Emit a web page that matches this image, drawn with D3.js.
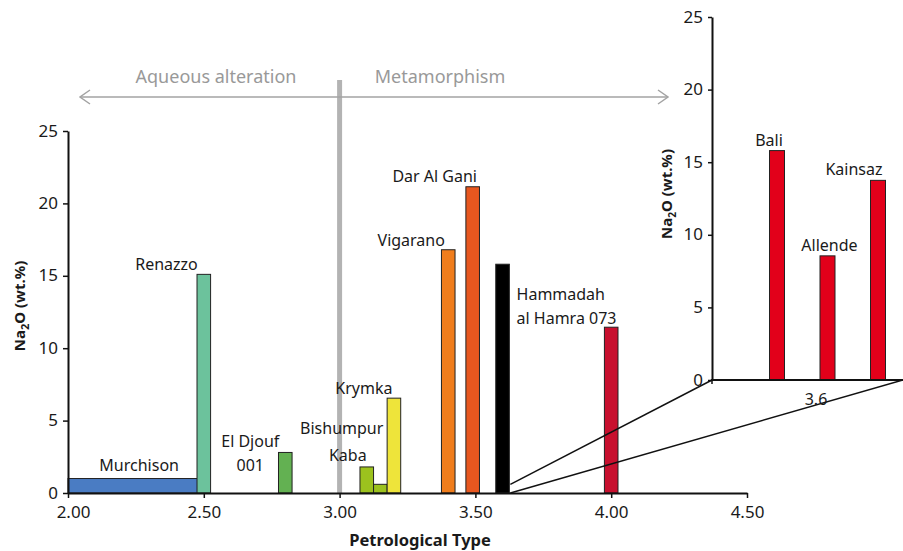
<!DOCTYPE html>
<html>
<head>
<meta charset="utf-8">
<script src="https://cdn.jsdelivr.net/npm/d3@7"></script>
<style>
  body { margin: 0; background: #fff; }
  text { font-family: "Noto Sans", sans-serif; fill: #1a1a1a; }
</style>
</head>
<body>
<div class="chart"></div>
<script>
// main chart data
var meteorites = ['Murchison', 'Renazzo', 'El Djouf 001', 'Kaba', 'Bishumpur', 'Krymka',
  'Vigarano', 'Dar Al Gani', 'Hammadah al Hamra 073', 'Type 4'];
var typeMin = [2.00, 2.50, 2.80, 3.10, 3.15, 3.20, 3.40, 3.49, 3.60, 4.00];
var typeMax = [2.48, 2.50, 2.80, 3.10, 3.15, 3.20, 3.40, 3.49, 3.60, 4.00];
var na2o = [1.0, 15.1, 2.8, 1.8, 0.6, 6.55, 16.8, 21.15, 15.8, 11.45];
var barColors = ['#4a7cc3', '#6cc29c', '#63b152', '#9cc21e', '#9cc21e', '#eee43a',
  '#f07d1c', '#e8571f', '#000000', '#c8102e'];
var xTicks = [2.0, 2.5, 3.0, 3.5, 4.0, 4.5];
var yTicks = [0, 5, 10, 15, 20, 25];

// inset (type 3.6)
var insetNames = ['Bali', 'Allende', 'Kainsaz'];
var insetNa2o = [15.8, 8.55, 13.75];

var width = 903, height = 551;

var svg = d3.select('.chart')
  .append('svg')
    .attr('width', width)
    .attr('height', height);

var xScale = d3.scaleLinear().domain([2, 4.5]).range([68, 747]);
var yScale = d3.scaleLinear().domain([0, 25]).range([493, 131]);
var barW = 0.05;

// label offsets relative to bar centre / top: [dx, dy, anchor]
var labelPos = {
  'Murchison': [6, -8, 'middle'],
  'Renazzo': [-6, -4, 'end'],
  'El Djouf 001': [-35, -5, 'middle'],
  'Kaba': [-19, -6, 'middle'],
  'Bishumpur': [3, -50, 'end'],
  'Krymka': [-30, -4, 'middle'],
  'Vigarano': [-37, -4, 'middle'],
  'Dar Al Gani': [-38, -5, 'middle'],
  'Hammadah al Hamra 073': [14, 36, 'start']
};
var labelLines = {
  'El Djouf 001': ['El Djouf', '001'],
  'Hammadah al Hamra 073': ['Hammadah', 'al Hamra 073']
};

// phase arrow + type 3.0 divider
var grey = '#a3a3a3';
svg.append('line')
  .attr('x1', xScale(3.0)).attr('x2', xScale(3.0))
  .attr('y1', 80).attr('y2', yScale(0))
  .attr('stroke', '#b3b3b3').attr('stroke-width', 5);
svg.append('line')
  .attr('x1', 80).attr('x2', 668).attr('y1', 97).attr('y2', 97)
  .attr('stroke', grey).attr('stroke-width', 1.5);
svg.append('path')
  .attr('d', 'M90,90 L80,97 L90,104 M658,90 L668,97 L658,104')
  .attr('fill', 'none').attr('stroke', grey).attr('stroke-width', 1.5);
svg.append('text').attr('x', 216).attr('y', 83).attr('text-anchor', 'middle')
  .style('fill', '#999').style('font-size', '18px').text('Aqueous alteration');
svg.append('text').attr('x', 440).attr('y', 83).attr('text-anchor', 'middle')
  .style('fill', '#999').style('font-size', '18px').text('Metamorphism');

// bars
var data = meteorites.map((m, i) => ({
  name: m, t0: typeMin[i], t1: typeMax[i], v: na2o[i], color: barColors[i]
}));

svg.selectAll('rect.bar')
  .data(data)
  .enter()
  .append('rect')
    .attr('class', 'bar')
    .attr('x', d => d.t0 === d.t1 ? xScale(d.t0 - barW / 2) : xScale(d.t0))
    .attr('y', d => yScale(d.v))
    .attr('width', d => d.t0 === d.t1 ? xScale(d.t0 + barW / 2) - xScale(d.t0 - barW / 2) : xScale(d.t1) - xScale(d.t0))
    .attr('height', d => yScale(0) - yScale(d.v))
    .attr('fill', d => d.color)
    .attr('stroke', '#222')
    .attr('stroke-width', 1);

// bar labels
data.forEach(d => {
  var p = labelPos[d.name];
  if (!p) return;
  var cx = (xScale(d.t0) + xScale(d.t1)) / 2;
  var lines = labelLines[d.name] || [d.name];
  var t = svg.append('text')
    .attr('x', cx + p[0])
    .attr('y', yScale(d.v) + p[1])
    .attr('text-anchor', p[2])
    .style('font-size', '16px');
  lines.forEach((l, j) => {
    t.append('tspan').attr('x', cx + p[0]).attr('dy', j ? 24 : 0).text(l);
  });
});

// axes
var xAxis = d3.axisBottom(xScale)
  .tickValues(xTicks)
  .tickFormat(d3.format('.2f'))
  .tickSize(5)
  .tickSizeOuter(0)
  .tickPadding(8);
var gx = svg.append('g')
  .attr('transform', `translate(0, ${yScale(0)})`)
  .call(xAxis);
// first label sits a little right of its tick
gx.selectAll('.tick text').filter(d => d === 2.0).attr('dx', 5);

var yAxis = d3.axisLeft(yScale)
  .tickValues(yTicks)
  .tickSize(5)
  .tickSizeOuter(0)
  .tickPadding(5);
var gy = svg.append('g')
  .attr('transform', `translate(${xScale(2)}, 0)`)
  .call(yAxis);

[gx, gy].forEach(g => {
  g.select('.domain').attr('stroke', '#111').attr('stroke-width', 2);
  g.selectAll('.tick line').attr('stroke', '#111').attr('stroke-width', 1.5);
  g.selectAll('.tick text').style('font-size', '17px').style('font-family', '"Noto Sans", sans-serif').attr('fill', '#1a1a1a');
});
gy.selectAll('.tick text').attr('dy', '0.3em');

svg.append('text')
  .attr('x', 420).attr('y', 546)
  .attr('text-anchor', 'middle')
  .style('font-size', '16.5px').style('font-weight', 'bold')
  .text('Petrological Type');

var ylab = svg.append('text')
  .attr('transform', 'translate(25, 306) rotate(-90)')
  .attr('text-anchor', 'middle')
  .style('font-size', '15px').style('font-weight', 'bold');
ylab.append('tspan').text('Na');
ylab.append('tspan').attr('dy', 4).style('font-size', '11px').text('2');
ylab.append('tspan').attr('dy', -4).text('O (wt.%)');

// inset
var insetX = d3.scalePoint().domain(insetNames).range([777, 878]);
var insetY = d3.scaleLinear().domain([0, 25]).range([380, 17]);
var insetBarW = 15;

// zoom lines from type 3.6 bar to the inset
var zx = xScale(3.6 + barW / 2) + 1;
svg.append('line')
  .attr('x1', zx).attr('y1', yScale(0.6))
  .attr('x2', 712).attr('y2', insetY(0))
  .attr('stroke', '#111').attr('stroke-width', 1.5);
svg.append('line')
  .attr('x1', zx).attr('y1', yScale(0))
  .attr('x2', 903).attr('y2', insetY(0))
  .attr('stroke', '#111').attr('stroke-width', 1.5);

var inset = svg.append('g');
inset.append('rect')
  .attr('x', 713).attr('y', 10).attr('width', 190).attr('height', insetY(0) - 10)
  .attr('fill', '#fff');

inset.selectAll('rect.ibar')
  .data(insetNames)
  .enter()
  .append('rect')
    .attr('class', 'ibar')
    .attr('x', d => insetX(d) - insetBarW / 2)
    .attr('y', (d, i) => insetY(insetNa2o[i]))
    .attr('width', insetBarW)
    .attr('height', (d, i) => insetY(0) - insetY(insetNa2o[i]))
    .attr('fill', '#e2001a')
    .attr('stroke', '#222')
    .attr('stroke-width', 1);

var insetLabelDx = [-8, 2, -24];
inset.selectAll('text.ilab')
  .data(insetNames)
  .enter()
  .append('text')
    .attr('class', 'ilab')
    .attr('x', (d, i) => insetX(d) + insetLabelDx[i])
    .attr('y', (d, i) => insetY(insetNa2o[i]) - 5)
    .attr('text-anchor', 'middle')
    .style('font-size', '16px')
    .text(d => d);

var giy = inset.append('g')
  .attr('transform', 'translate(712, 0)')
  .call(d3.axisLeft(insetY).tickValues(yTicks).tickSize(4).tickSizeOuter(0).tickPadding(5));
giy.select('.domain').attr('stroke', '#111').attr('stroke-width', 2);
giy.selectAll('.tick line').attr('stroke', '#111').attr('stroke-width', 1.5);
giy.selectAll('.tick text').style('font-size', '17px').style('font-family', '"Noto Sans", sans-serif').attr('fill', '#1a1a1a').attr('dy', '0.3em');

inset.append('line')
  .attr('x1', 711).attr('x2', 903).attr('y1', insetY(0)).attr('y2', insetY(0))
  .attr('stroke', '#111').attr('stroke-width', 2);
inset.append('line')
  .attr('x1', 712).attr('x2', 712).attr('y1', insetY(0)).attr('y2', insetY(0) + 4)
  .attr('stroke', '#111').attr('stroke-width', 1.5);
inset.append('text')
  .attr('x', 816).attr('y', 405)
  .attr('text-anchor', 'middle')
  .style('font-size', '16px')
  .text('3.6');

var iylab = inset.append('text')
  .attr('transform', 'translate(672, 194) rotate(-90)')
  .attr('text-anchor', 'middle')
  .style('font-size', '15px').style('font-weight', 'bold');
iylab.append('tspan').text('Na');
iylab.append('tspan').attr('dy', 4).style('font-size', '10px').text('2');
iylab.append('tspan').attr('dy', -4).text('O (wt.%)');
</script>
</body>
</html>
